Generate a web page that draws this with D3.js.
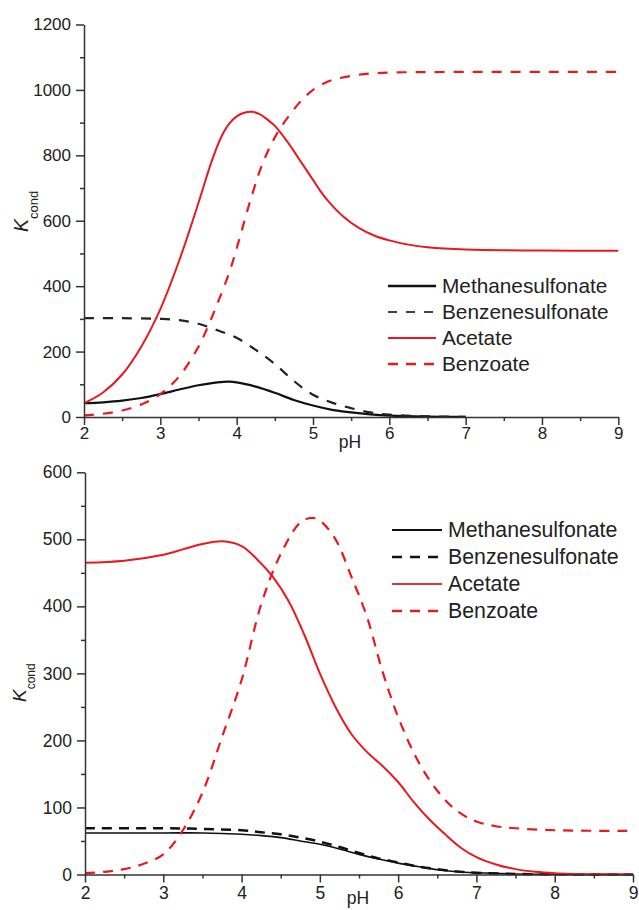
<!DOCTYPE html>
<html><head><meta charset="utf-8">
<script src="https://cdn.jsdelivr.net/npm/d3@7"></script>
<style>
body{margin:0;background:#fff}
svg{display:block}
text{font-family:"Liberation Sans",Arial,Helvetica,sans-serif;fill:#222}
</style>
</head><body>
<svg id="chart" width="639" height="910"></svg>
<script>
// ---------- data ----------
const seriesNames = ["Methanesulfonate", "Benzenesulfonate", "Acetate", "Benzoate"];
const xTicks = [2, 3, 4, 5, 6, 7, 8, 9];
const xMinorTicks = [2.5, 3.5, 4.5, 5.5, 6.5, 7.5, 8.5];
const topYTicks = [0, 200, 400, 600, 800, 1000, 1200];
const topYMinorTicks = [100, 300, 500, 700, 900, 1100];
const bottomYTicks = [0, 100, 200, 300, 400, 500, 600];
const bottomYMinorTicks = [50, 150, 250, 350, 450, 550];

// top panel: [pH, Kcond]
const topMethanesulfonate = [[2,42],[2.25,45],[2.5,50],[2.75,58],[3,70],[3.25,84],[3.5,97],[3.75,106],[3.9,108],[4,106],[4.25,93],[4.5,74],[4.75,52],[5,35],[5.25,22],[5.5,14],[5.75,8],[6,4],[6.5,1],[7,0.3]];
const topBenzenesulfonate = [[2,302],[2.5,302],[3,300],[3.25,296],[3.5,285],[3.75,265],[4,242],[4.25,205],[4.5,162],[4.75,110],[5,68],[5.25,44],[5.5,27],[5.75,14],[6,7],[6.5,2],[7,0.5]];
const topAcetate = [[2,42],[2.25,75],[2.5,130],[2.75,215],[3,330],[3.25,480],[3.5,655],[3.6,730],[3.7,800],[3.8,857],[3.9,896],[4,919],[4.1,930],[4.2,933],[4.3,926],[4.4,910],[4.5,890],[4.6,862],[4.7,830],[4.8,795],[4.9,760],[5,725],[5.1,690],[5.2,660],[5.4,612],[5.6,578],[5.8,555],[6,540],[6.25,527],[6.5,519],[7,512],[8,509],[9,508]];
const topBenzoate = [[2,5],[2.25,10],[2.5,20],[2.75,38],[3,70],[3.25,125],[3.5,215],[3.63,280],[3.75,348],[3.9,440],[4,515],[4.1,598],[4.2,678],[4.3,750],[4.4,808],[4.5,855],[4.6,893],[4.7,925],[4.8,955],[4.9,980],[5,1000],[5.1,1015],[5.25,1030],[5.5,1043],[5.75,1050],[6,1053],[7,1055],[9,1055]];

// bottom panel: [pH, Kcond]
const bottomMethanesulfonate = [[2,62],[3,62],[3.5,62],[4,60],[4.25,58],[4.5,55],[4.75,50],[5,45],[5.25,38],[5.5,30],[5.75,23],[6,17],[6.25,12],[6.5,7],[6.75,4],[7,2.5],[7.5,0.8],[8,0.3],[8.5,0],[9,0]];
const bottomBenzenesulfonate = [[2,69],[3,69],[3.5,68],[4,66],[4.25,63],[4.5,60],[4.75,55],[5,49],[5.25,41],[5.5,32],[5.75,24],[6,18],[6.25,12],[6.5,8],[6.75,4.5],[7,2.5],[7.5,0.8],[8,0.3],[8.5,0],[9,0]];
const bottomAcetate = [[2,465],[2.5,468],[3,477],[3.25,485],[3.5,493],[3.75,497],[4,490],[4.2,470],[4.4,444],[4.6,408],[4.8,358],[5,300],[5.2,250],[5.4,210],[5.6,183],[5.8,162],[6,138],[6.2,108],[6.4,82],[6.6,60],[6.8,40],[7,26],[7.25,15],[7.5,8],[7.75,4],[8,2],[8.5,0.5],[9,0]];
const bottomBenzoate = [[2,2],[2.25,4],[2.5,8],[2.75,16],[3,30],[3.25,66],[3.5,122],[3.75,205],[4,290],[4.25,403],[4.5,478],[4.75,525],[4.9,532],[5,528],[5.2,500],[5.4,445],[5.6,385],[5.8,303],[6,235],[6.25,170],[6.5,125],[6.75,95],[7,79],[7.25,72],[7.5,69],[8,66],[9,65]];

// ---------- drawing ----------
const svg = d3.select("#chart");
const RED = "#e8191f";
const AXIS = "#333";

const panels = [
  {
    x: d3.scaleLinear().domain([2, 9]).range([84, 618.3]),
    y: d3.scaleLinear().domain([0, 1200]).range([417, 24.5]),
    yTicks: topYTicks, yMinor: topYMinorTicks, tickFont: 17,
    series: [topMethanesulfonate, topBenzenesulfonate, topAcetate, topBenzoate],
    styles: [
      {color: "#111", width: 2.2, dash: null},
      {color: "#222", width: 2.2, dash: "10,9"},
      {color: RED, width: 2, dash: null},
      {color: RED, width: 2.2, dash: "10,9"}
    ],
    legendStyles: [
      {color: "#111", width: 2.5, dash: null},
      {color: "#444", width: 2.2, dash: "9,9"},
      {color: RED, width: 2, dash: null},
      {color: RED, width: 2.5, dash: "10,8"}
    ],
    legend: {x1: 388, x2: 436, tx: 442, y0: 286, dy: 26, font: 20.8},
    pH: {x: 350, y: 448, font: 17.5},
    ylab: {x: 28, y: 232, kFont: 19.5, subFont: 13, subDy: 10},
    tickLabelPad: 2
  },
  {
    x: d3.scaleLinear().domain([2, 9]).range([85, 633]),
    y: d3.scaleLinear().domain([0, 600]).range([874.5, 472.3]),
    yTicks: bottomYTicks, yMinor: bottomYMinorTicks, tickFont: 17.5,
    series: [bottomMethanesulfonate, bottomBenzenesulfonate, bottomAcetate, bottomBenzoate],
    styles: [
      {color: "#111", width: 1.6, dash: null},
      {color: "#111", width: 2.5, dash: "10,7"},
      {color: RED, width: 2, dash: null},
      {color: RED, width: 2.2, dash: "10,8"}
    ],
    legendStyles: [
      {color: "#111", width: 1.8, dash: null},
      {color: "#111", width: 2.5, dash: "10,8"},
      {color: "#d9383c", width: 2.2, dash: null},
      {color: RED, width: 2.5, dash: "10,8"}
    ],
    legend: {x1: 392, x2: 442, tx: 448, y0: 530, dy: 27, font: 21.3},
    pH: {x: 358, y: 904, font: 17.5},
    ylab: {x: 26, y: 702, kFont: 19, subFont: 12, subDy: 9},
    tickLabelPad: 4
  }
];

panels.forEach(p => {
  const g = svg.append("g");
  const [y0] = p.y.range();
  const [x0] = p.x.range();

  // lines
  const line = d3.line().x(d => p.x(d[0])).y(d => p.y(d[1])).curve(d3.curveCatmullRom.alpha(0.5));
  p.series.forEach((s, i) => {
    const st = p.styles[i];
    g.append("path").datum(s)
      .attr("d", line)
      .attr("fill", "none")
      .attr("stroke", st.color)
      .attr("stroke-width", st.width)
      .attr("stroke-dasharray", st.dash)
      .attr("stroke-linejoin", "round");
  });

  // x axis major
  g.append("g").attr("transform", `translate(0,${y0})`)
    .call(d3.axisBottom(p.x).tickValues(xTicks).tickFormat(d3.format("d"))
      .tickSize(8).tickSizeOuter(0).tickPadding(p.tickLabelPad));
  // x axis minor
  g.append("g").attr("transform", `translate(0,${y0})`)
    .call(d3.axisBottom(p.x).tickValues(xMinorTicks).tickFormat("").tickSize(4).tickSizeOuter(0))
    .select(".domain").remove();

  // y axis major
  g.append("g").attr("transform", `translate(${x0},0)`)
    .call(d3.axisLeft(p.y).tickValues(p.yTicks).tickFormat(d3.format("d"))
      .tickSize(8).tickSizeOuter(0).tickPadding(5));
  g.append("g").attr("transform", `translate(${x0},0)`)
    .call(d3.axisLeft(p.y).tickValues(p.yMinor).tickFormat("").tickSize(4).tickSizeOuter(0))
    .select(".domain").remove();

  g.selectAll(".domain, .tick line").attr("stroke", AXIS).attr("stroke-width", 1.5);
  g.selectAll(".tick text").attr("font-size", p.tickFont).attr("fill", "#222")
    .attr("font-family", '"Liberation Sans",Arial,sans-serif');

  // pH label
  g.append("text").attr("x", p.pH.x).attr("y", p.pH.y)
    .attr("text-anchor", "middle").attr("font-size", p.pH.font).text("pH");

  // y label K_cond
  const yl = g.append("text")
    .attr("transform", `translate(${p.ylab.x},${p.ylab.y}) rotate(-90)`)
    .attr("text-anchor", "start");
  yl.append("tspan").attr("font-style", "italic").attr("font-size", p.ylab.kFont).text("K");
  yl.append("tspan").attr("font-size", p.ylab.subFont).attr("dy", p.ylab.subDy).text("cond");

  // legend
  const L = p.legend;
  seriesNames.forEach((name, i) => {
    const st = p.legendStyles[i];
    const yy = L.y0 + i * L.dy;
    g.append("line").attr("x1", L.x1).attr("x2", L.x2).attr("y1", yy).attr("y2", yy)
      .attr("stroke", st.color).attr("stroke-width", st.width).attr("stroke-dasharray", st.dash);
    g.append("text").attr("x", L.tx).attr("y", yy).attr("dy", "0.35em")
      .attr("font-size", L.font).text(name);
  });
});
</script>
</body></html>
